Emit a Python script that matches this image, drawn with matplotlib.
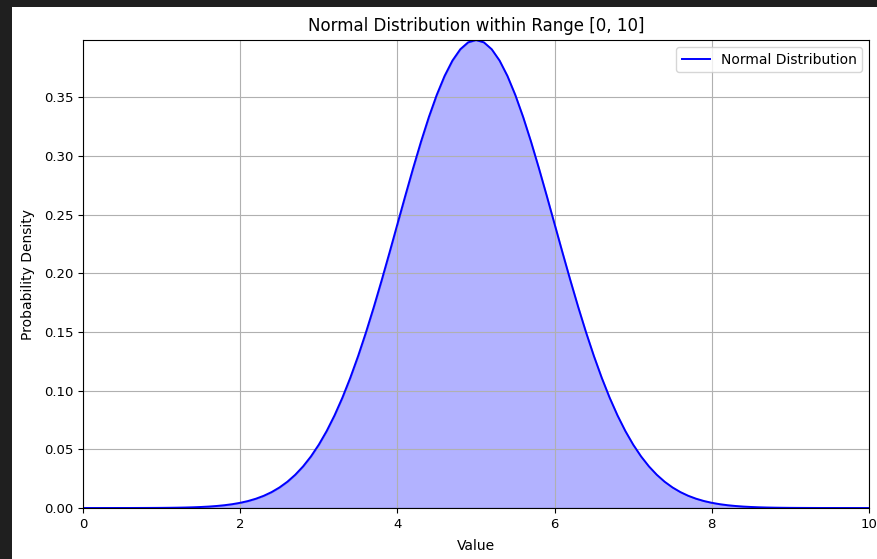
import numpy as np
import matplotlib
matplotlib.use("Agg")
import matplotlib.pyplot as plt
from matplotlib.patches import Rectangle

# Values: x from 0 to 10 in steps of 0.1
x_values = np.round(np.arange(0, 101) * 0.1, 1)
density = [
    0.00000, 0.00000, 0.00000, 0.00001, 0.00001, 0.00002, 0.00002, 0.00004, 0.00006, 0.00009,
    0.00013, 0.00020, 0.00029, 0.00042, 0.00061, 0.00087, 0.00123, 0.00172, 0.00238, 0.00327,
    0.00443, 0.00595, 0.00792, 0.01042, 0.01358, 0.01753, 0.02239, 0.02833, 0.03547, 0.04398,
    0.05399, 0.06562, 0.07895, 0.09405, 0.11092, 0.12952, 0.14973, 0.17137, 0.19419, 0.21785,
    0.24197, 0.26609, 0.28969, 0.31225, 0.33322, 0.35207, 0.36827, 0.38139, 0.39104, 0.39695,
    0.39894, 0.39695, 0.39104, 0.38139, 0.36827, 0.35207, 0.33322, 0.31225, 0.28969, 0.26609,
    0.24197, 0.21785, 0.19419, 0.17137, 0.14973, 0.12952, 0.11092, 0.09405, 0.07895, 0.06562,
    0.05399, 0.04398, 0.03547, 0.02833, 0.02239, 0.01753, 0.01358, 0.01042, 0.00792, 0.00595,
    0.00443, 0.00327, 0.00238, 0.00172, 0.00123, 0.00087, 0.00061, 0.00042, 0.00029, 0.00020,
    0.00013, 0.00009, 0.00006, 0.00004, 0.00002, 0.00002, 0.00001, 0.00001, 0.00000, 0.00000,
    0.00000,
]
series_label = "Normal Distribution"
title_text = "Normal Distribution within Range [0, 10]"
x_label = "Value"
y_label = "Probability Density"

W, H, DPI = 877, 559, 100
fig = plt.figure(figsize=(W / DPI, H / DPI), dpi=DPI)
fig.patch.set_facecolor("white")

# dark screenshot frame (left and top)
dark = "#1f1f1f"
fig.patches.append(Rectangle((0, 0), 12 / W, 1, transform=fig.transFigure,
                             facecolor=dark, edgecolor="none", zorder=10))
fig.patches.append(Rectangle((0, 1 - 7 / H), 1, 7 / H, transform=fig.transFigure,
                             facecolor=dark, edgecolor="none", zorder=10))

left, right, top, bottom = 83, 869, 40, 508
ax = fig.add_axes([left / W, 1 - bottom / H, (right - left) / W, (bottom - top) / H])

ax.plot(x_values, density, color="blue", linewidth=1.4, label=series_label)
ax.fill_between(x_values, density, color="blue", alpha=0.3)
ax.set_xlim(0, 10)
ax.set_ylim(0, max(density))
ax.set_title(title_text, fontsize=12, pad=6.5)
ax.set_xlabel(x_label, fontsize=10, labelpad=6)
ax.set_ylabel(y_label, fontsize=10, labelpad=6)
ax.tick_params(labelsize=9.5)
ax.grid(True)
ax.legend(loc="upper right", fontsize=10)

fig.savefig("out.png", dpi=DPI)
